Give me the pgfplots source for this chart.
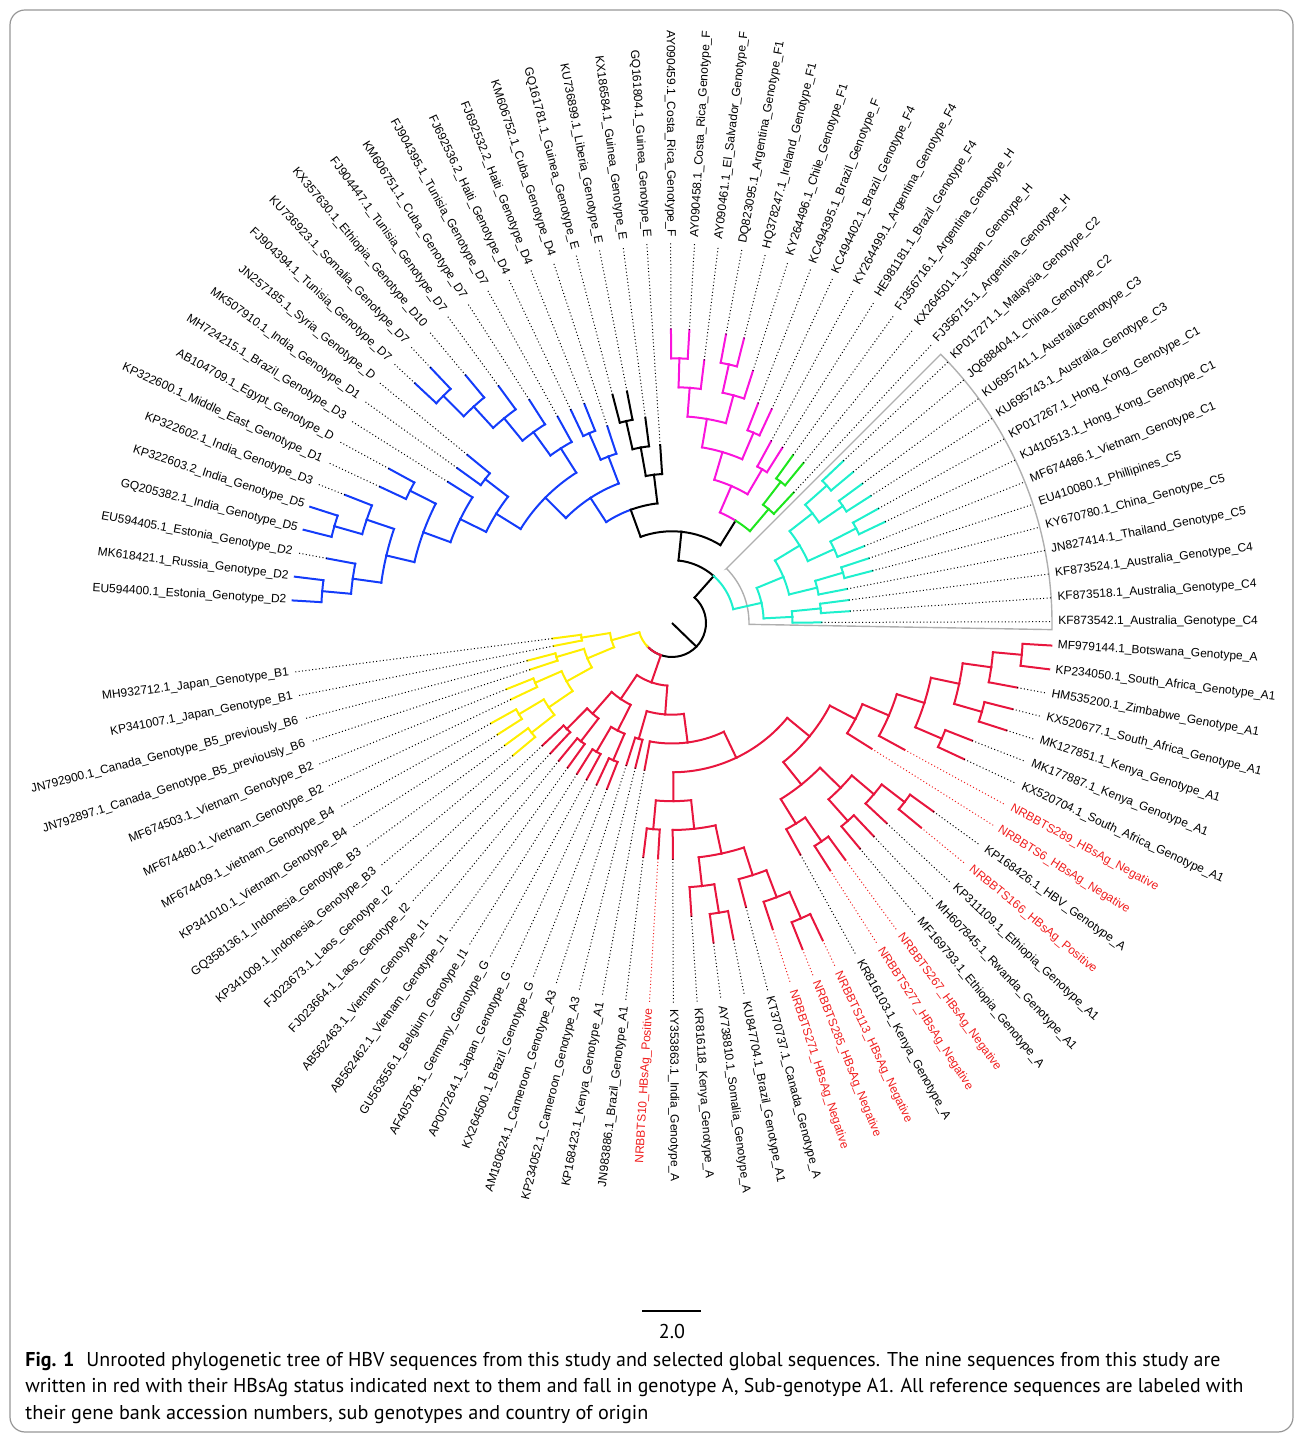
\documentclass[border=0pt]{standalone}
\usepackage{graphicx}
\usepackage{pgfplots}
\pgfplotsset{compat=1.18}
\usepackage{fontspec}
\setmainfont{Liberation Sans}
\newfontfamily\capfont{PT Sans}
\definecolor{cD}{RGB}{20,60,250}
\definecolor{cF}{RGB}{250,20,220}
\definecolor{cH}{RGB}{30,230,30}
\definecolor{cC}{RGB}{30,240,205}
\definecolor{cA}{RGB}{232,22,62}
\definecolor{cB}{RGB}{255,238,0}
\definecolor{cK}{RGB}{0,0,0}
\definecolor{lred}{RGB}{240,30,30}
\definecolor{frm}{RGB}{150,150,150}
\definecolor{sect}{RGB}{175,175,175}
\tikzset{dotline/.style={line width=0.5pt, dash pattern=on 0.5pt off 1.2pt}}
\newcommand\lbl{\fontsize{6}{7}\selectfont}
\newcommand\capf{\capfont\fontsize{10}{12}\selectfont}
% edge: colour, parent angle, parent radius, child angle, child radius
\newcommand\Br[5]{%
 \addplot[#1, data cs=polar, line width=1pt, line cap=rect] coordinates {(#4,#3) (#4,#5)};
 \draw[#1, line width=1pt, line cap=rect] (axis cs:{#3*cos(#2)},{#3*sin(#2)}) arc[start angle=#2, end angle=#4, radius={#3*0.5pt}];
}
% leaf label, right side: angle, tip radius, colour, text
\newcommand\LabR[4]{%
 \addplot[#3, data cs=polar, dotline] coordinates {(#1,#2) (#1,380)};
 \node[text=#3, rotate=#1, anchor=west, inner sep=0pt, font=\lbl] at (axis cs:{386*cos(#1)},{386*sin(#1)}) {#4};
}
\newcommand\LabL[4]{%
 \addplot[#3, data cs=polar, dotline] coordinates {(#1,#2) (#1,380)};
 \node[text=#3, rotate={#1+180}, anchor=east, inner sep=0pt, font=\lbl] at (axis cs:{386*cos(#1)},{386*sin(#1)}) {#4};
}
\begin{document}
\begin{tikzpicture}
\begin{axis}[x=0.5pt, y=0.5pt, xmin=-672, xmax=623, ymin=-813, ymax=623,
  hide axis, clip=false, no marks]
\path (axis cs:-672,-813) (axis cs:623,623);
\draw[frm, line width=0.6pt, rounded corners=7.5pt] (axis cs:-662,613) rectangle (axis cs:621,-809);
% grey sector round clade C
\draw[sect, line width=0.7pt] (axis cs:{77*cos(45)},{77*sin(45)}) -- (axis cs:{380*cos(45)},{380*sin(45)}) arc[start angle=45, end angle=-1, radius={380*0.5pt}] -- (axis cs:{77*cos(-1)},{77*sin(-1)}) arc[start angle=-1, end angle=45, radius={77*0.5pt}] -- cycle;
% root stub
\addplot[cK, data cs=polar, line width=1pt] coordinates {(-44.1,0) (-44.1,34)};
% backbone
\Br{cK}{-44.1}{34}{48.39}{62.8}
\Br{cK}{-44.1}{34}{-136.6}{34}
\Br{cA}{-136.6}{34}{-109.14}{62.8}
\Br{cB}{-136.6}{34}{-164.05}{62.8}
\Br{cK}{48.39}{62.8}{84.09}{91.7}
\Br{cC}{48.39}{62.8}{12.69}{91.7}
\Br{cK}{84.09}{91.7}{110.03}{120.5}
\Br{cK}{84.09}{91.7}{58.14}{120.5}
\Br{cD}{110.03}{120.5}{123.1}{149.3}
\Br{cK}{110.03}{120.5}{96.95}{149.3}
% D
\Br{cD}{123.1}{149.3}{135.31}{178.2}
\Br{cD}{123.1}{149.3}{110.9}{178.2}
\Br{cD}{135.31}{178.2}{148.14}{207}
\Br{cD}{135.31}{178.2}{122.49}{207}
\Br{cD}{148.14}{207}{153.875}{235.8}
\Br{cD}{148.14}{207}{142.4}{235.8}
\Br{cD}{153.875}{235.8}{159.95}{264.7}
\Br{cD}{153.875}{235.8}{147.8}{264.7}
\Br{cD}{159.95}{264.7}{166.7}{293.5}
\Br{cD}{159.95}{264.7}{153.2}{293.5}
\Br{cD}{166.7}{293.5}{172.1}{322.3}
\Br{cD}{166.7}{293.5}{161.3}{322.3}
\Br{cD}{172.1}{322.3}{174.8}{351.2}
\Br{cD}{172.1}{322.3}{169.4}{351.2}
\Br{cD}{174.8}{351.2}{176.6}{380}
\Br{cD}{174.8}{351.2}{173.0}{380}
\Br{cD}{161.3}{322.3}{164.0}{351.2}
\Br{cD}{161.3}{322.3}{158.6}{351.2}
\Br{cD}{164.0}{351.2}{165.8}{380}
\Br{cD}{164.0}{351.2}{162.2}{380}
\Br{cD}{153.2}{293.5}{155.0}{322.3}
\Br{cD}{153.2}{293.5}{151.4}{322.3}
\Br{cD}{142.4}{235.8}{144.2}{264.7}
\Br{cD}{142.4}{235.8}{140.6}{264.7}
\Br{cD}{122.49}{207}{125.975}{235.8}
\Br{cD}{122.49}{207}{119.0}{235.8}
\Br{cD}{125.975}{235.8}{129.35}{264.7}
\Br{cD}{125.975}{235.8}{122.6}{264.7}
\Br{cD}{129.35}{264.7}{132.5}{293.5}
\Br{cD}{129.35}{264.7}{126.2}{293.5}
\Br{cD}{132.5}{293.5}{135.2}{322.3}
\Br{cD}{132.5}{293.5}{129.8}{322.3}
\Br{cD}{135.2}{322.3}{137.0}{351.2}
\Br{cD}{135.2}{322.3}{133.4}{351.2}
\Br{cD}{110.9}{178.2}{113.6}{207}
\Br{cD}{110.9}{178.2}{108.2}{207}
\Br{cD}{113.6}{207}{115.4}{235.8}
\Br{cD}{113.6}{207}{111.8}{235.8}
% E
\Br{cK}{96.95}{149.3}{100.1}{178.2}
\Br{cK}{96.95}{149.3}{93.8}{178.2}
\Br{cK}{100.1}{178.2}{102.8}{207}
\Br{cK}{100.1}{178.2}{97.4}{207}
\Br{cK}{102.8}{207}{104.6}{235.8}
\Br{cK}{102.8}{207}{101.0}{235.8}
% F and H
\Br{cF}{58.14}{120.5}{66.575}{149.3}
\Br{cH}{58.14}{120.5}{49.7}{149.3}
\Br{cF}{66.575}{149.3}{73.55}{178.2}
\Br{cF}{66.575}{149.3}{59.6}{178.2}
\Br{cF}{73.55}{178.2}{80.3}{207}
\Br{cF}{73.55}{178.2}{66.8}{207}
\Br{cF}{80.3}{207}{85.7}{235.8}
\Br{cF}{80.3}{207}{74.9}{235.8}
\Br{cF}{85.7}{235.8}{88.4}{264.7}
\Br{cF}{85.7}{235.8}{83.0}{264.7}
\Br{cF}{88.4}{264.7}{90.2}{293.5}
\Br{cF}{88.4}{264.7}{86.6}{293.5}
\Br{cF}{74.9}{235.8}{77.6}{264.7}
\Br{cF}{74.9}{235.8}{72.2}{264.7}
\Br{cF}{77.6}{264.7}{79.4}{293.5}
\Br{cF}{77.6}{264.7}{75.8}{293.5}
\Br{cF}{66.8}{207}{68.6}{235.8}
\Br{cF}{66.8}{207}{65.0}{235.8}
\Br{cF}{59.6}{178.2}{61.4}{207}
\Br{cF}{59.6}{178.2}{57.8}{207}
\Br{cH}{49.7}{149.3}{52.4}{178.2}
\Br{cH}{49.7}{149.3}{47.0}{178.2}
\Br{cH}{52.4}{178.2}{54.2}{207}
\Br{cH}{52.4}{178.2}{50.6}{207}
% C
\Br{cC}{12.69}{91.7}{22.475}{120.5}
\Br{cC}{12.69}{91.7}{2.9}{120.5}
\Br{cC}{22.475}{120.5}{31.25}{149.3}
\Br{cC}{22.475}{120.5}{13.7}{149.3}
\Br{cC}{31.25}{149.3}{38.0}{178.2}
\Br{cC}{31.25}{149.3}{24.5}{178.2}
\Br{cC}{38.0}{178.2}{41.6}{207}
\Br{cC}{38.0}{178.2}{34.4}{207}
\Br{cC}{41.6}{207}{43.4}{235.8}
\Br{cC}{41.6}{207}{39.8}{235.8}
\Br{cC}{34.4}{207}{36.2}{235.8}
\Br{cC}{34.4}{207}{32.6}{235.8}
\Br{cC}{24.5}{178.2}{27.2}{207}
\Br{cC}{24.5}{178.2}{21.8}{207}
\Br{cC}{27.2}{207}{29.0}{235.8}
\Br{cC}{27.2}{207}{25.4}{235.8}
\Br{cC}{13.7}{149.3}{16.4}{178.2}
\Br{cC}{13.7}{149.3}{11.0}{178.2}
\Br{cC}{16.4}{178.2}{18.2}{207}
\Br{cC}{16.4}{178.2}{14.6}{207}
\Br{cC}{2.9}{120.5}{5.6}{149.3}
\Br{cC}{2.9}{120.5}{0.2}{149.3}
\Br{cC}{5.6}{149.3}{7.4}{178.2}
\Br{cC}{5.6}{149.3}{3.8}{178.2}
% A
\Br{cA}{-109.14}{62.8}{-94.275}{91.7}
\Br{cA}{-109.14}{62.8}{-124.0}{91.7}
\Br{cA}{-94.275}{91.7}{-82.55}{120.5}
\Br{cA}{-94.275}{91.7}{-106.0}{120.5}
\Br{cA}{-106.0}{120.5}{-104.2}{149.3}
\Br{cA}{-106.0}{120.5}{-107.8}{149.3}
\Br{cA}{-82.55}{120.5}{-64.5}{149.3}
\Br{cA}{-82.55}{120.5}{-100.6}{149.3}
\Br{cA}{-64.5}{149.3}{-39.48}{178.2}
\Br{cA}{-64.5}{149.3}{-89.52}{178.2}
\Br{cA}{-89.52}{178.2}{-83.84}{207}
\Br{cA}{-89.52}{178.2}{-95.2}{207}
\Br{cA}{-95.2}{207}{-93.4}{235.8}
\Br{cA}{-95.2}{207}{-97.0}{235.8}
\Br{cA}{-83.84}{207}{-77.875}{235.8}
\Br{cA}{-83.84}{207}{-89.8}{235.8}
\Br{cA}{-77.875}{235.8}{-72.25}{264.7}
\Br{cA}{-77.875}{235.8}{-83.5}{264.7}
\Br{cA}{-83.5}{264.7}{-80.8}{293.5}
\Br{cA}{-83.5}{264.7}{-86.2}{293.5}
\Br{cA}{-80.8}{293.5}{-79.0}{322.3}
\Br{cA}{-80.8}{293.5}{-82.6}{322.3}
\Br{cA}{-72.25}{264.7}{-69.1}{293.5}
\Br{cA}{-72.25}{264.7}{-75.4}{293.5}
\Br{cA}{-69.1}{293.5}{-66.4}{322.3}
\Br{cA}{-69.1}{293.5}{-71.8}{322.3}
\Br{cA}{-66.4}{322.3}{-64.6}{351.2}
\Br{cA}{-66.4}{322.3}{-68.2}{351.2}
\Br{cA}{-39.48}{178.2}{-27.64}{207}
\Br{cA}{-39.48}{178.2}{-51.325}{207}
\Br{cA}{-27.64}{207}{-23.09}{235.8}
\Br{cA}{-27.64}{207}{-32.2}{235.8}
\Br{cA}{-23.09}{235.8}{-17.575}{264.7}
\Br{cA}{-23.09}{235.8}{-28.6}{264.7}
\Br{cA}{-17.575}{264.7}{-11.95}{293.5}
\Br{cA}{-17.575}{264.7}{-23.2}{293.5}
\Br{cA}{-11.95}{293.5}{-7.9}{322.3}
\Br{cA}{-11.95}{293.5}{-16.0}{322.3}
\Br{cA}{-7.9}{322.3}{-5.2}{351.2}
\Br{cA}{-7.9}{322.3}{-10.6}{351.2}
\Br{cA}{-5.2}{351.2}{-3.4}{380}
\Br{cA}{-5.2}{351.2}{-7.0}{380}
\Br{cA}{-16.0}{322.3}{-14.2}{351.2}
\Br{cA}{-16.0}{322.3}{-17.8}{351.2}
\Br{cA}{-23.2}{293.5}{-21.4}{322.3}
\Br{cA}{-23.2}{293.5}{-25.0}{322.3}
\Br{cA}{-51.325}{207}{-44.35}{235.8}
\Br{cA}{-51.325}{207}{-58.3}{235.8}
\Br{cA}{-44.35}{235.8}{-40.3}{264.7}
\Br{cA}{-44.35}{235.8}{-48.4}{264.7}
\Br{cA}{-40.3}{264.7}{-37.6}{293.5}
\Br{cA}{-40.3}{264.7}{-43.0}{293.5}
\Br{cA}{-37.6}{293.5}{-35.8}{322.3}
\Br{cA}{-37.6}{293.5}{-39.4}{322.3}
\Br{cA}{-48.4}{264.7}{-46.6}{293.5}
\Br{cA}{-48.4}{264.7}{-50.2}{293.5}
\Br{cA}{-58.3}{235.8}{-55.6}{264.7}
\Br{cA}{-58.3}{235.8}{-61.0}{264.7}
\Br{cA}{-55.6}{264.7}{-53.8}{293.5}
\Br{cA}{-55.6}{264.7}{-57.4}{293.5}
% G and I
\Br{cA}{-124.0}{91.7}{-116.8}{120.5}
\Br{cA}{-124.0}{91.7}{-131.2}{120.5}
\Br{cA}{-116.8}{120.5}{-113.2}{149.3}
\Br{cA}{-116.8}{120.5}{-120.4}{149.3}
\Br{cA}{-113.2}{149.3}{-111.4}{178.2}
\Br{cA}{-113.2}{149.3}{-115.0}{178.2}
\Br{cA}{-120.4}{149.3}{-118.6}{178.2}
\Br{cA}{-120.4}{149.3}{-122.2}{178.2}
\Br{cA}{-131.2}{120.5}{-127.6}{149.3}
\Br{cA}{-131.2}{120.5}{-134.8}{149.3}
\Br{cA}{-127.6}{149.3}{-125.8}{178.2}
\Br{cA}{-127.6}{149.3}{-129.4}{178.2}
\Br{cA}{-134.8}{149.3}{-133.0}{178.2}
\Br{cA}{-134.8}{149.3}{-136.6}{178.2}
% B
\Br{cB}{-164.05}{62.8}{-157.3}{91.7}
\Br{cB}{-164.05}{62.8}{-170.8}{91.7}
\Br{cB}{-170.8}{91.7}{-169.0}{120.5}
\Br{cB}{-170.8}{91.7}{-172.6}{120.5}
\Br{cB}{-157.3}{91.7}{-151.0}{120.5}
\Br{cB}{-157.3}{91.7}{-163.6}{120.5}
\Br{cB}{-163.6}{120.5}{-161.8}{149.3}
\Br{cB}{-163.6}{120.5}{-165.4}{149.3}
\Br{cB}{-151.0}{120.5}{-145.6}{149.3}
\Br{cB}{-151.0}{120.5}{-156.4}{149.3}
\Br{cB}{-156.4}{149.3}{-154.6}{178.2}
\Br{cB}{-156.4}{149.3}{-158.2}{178.2}
\Br{cB}{-145.6}{149.3}{-142.0}{178.2}
\Br{cB}{-145.6}{149.3}{-149.2}{178.2}
\Br{cB}{-142.0}{178.2}{-140.2}{207}
\Br{cB}{-142.0}{178.2}{-143.8}{207}
\Br{cB}{-149.2}{178.2}{-147.4}{207}
\Br{cB}{-149.2}{178.2}{-151.0}{207}
% leaf labels
\LabL{176.6}{380}{black}{EU594400.1\_Estonia\_Genotype\_D2}
\LabL{173.0}{380}{black}{MK618421.1\_Russia\_Genotype\_D2}
\LabL{169.4}{351.2}{black}{EU594405.1\_Estonia\_Genotype\_D2}
\LabL{165.8}{380}{black}{GQ205382.1\_India\_Genotype\_D5}
\LabL{162.2}{380}{black}{KP322603.2\_India\_Genotype\_D5}
\LabL{158.6}{351.2}{black}{KP322602.1\_India\_Genotype\_D3}
\LabL{155.0}{322.3}{black}{KP322600.1\_Middle\_East\_Genotype\_D1}
\LabL{151.4}{322.3}{black}{AB104709.1\_Egypt\_Genotype\_D}
\LabL{147.8}{264.7}{black}{MH724215.1\_Brazil\_Genotype\_D3}
\LabL{144.2}{264.7}{black}{MK507910.1\_India\_Genotype\_D1}
\LabL{140.6}{264.7}{black}{JN257185.1\_Syria\_Genotype\_D}
\LabL{137.0}{351.2}{black}{FJ904394.1\_Tunisia\_Genotype\_D7}
\LabL{133.4}{351.2}{black}{KU736923.1\_Somalia\_Genotype\_D7}
\LabL{129.8}{322.3}{black}{KX357630.1\_Ethiopia\_Genotype\_D10}
\LabL{126.2}{293.5}{black}{FJ904447.1\_Tunisia\_Genotype\_D7}
\LabL{122.6}{264.7}{black}{KM606751.1\_Cuba\_Genotype\_D7}
\LabL{119.0}{235.8}{black}{FJ904395.1\_Tunisia\_Genotype\_D7}
\LabL{115.4}{235.8}{black}{FJ692536.2\_Haiti\_Genotype\_D4}
\LabL{111.8}{235.8}{black}{FJ692532.2\_Haiti\_Genotype\_D4}
\LabL{108.2}{207}{black}{KM606752.1\_Cuba\_Genotype\_D4}
\LabL{104.6}{235.8}{black}{GQ161781.1\_Guinea\_Genotype\_E}
\LabL{101.0}{235.8}{black}{KU736899.1\_Liberia\_Genotype\_E}
\LabL{97.4}{207}{black}{KX186584.1\_Guinea\_Genotype\_E}
\LabL{93.8}{178.2}{black}{GQ161804.1\_Guinea\_Genotype\_E}
\LabL{90.2}{293.5}{black}{AY090459.1\_Costa\_Rica\_Genotype\_F}
\LabR{86.6}{293.5}{black}{AY090458.1\_Costa\_Rica\_Genotype\_F}
\LabR{83.0}{264.7}{black}{AY090461.1\_El\_Salvador\_Genotype\_F}
\LabR{79.4}{293.5}{black}{DQ823095.1\_Argentina\_Genotype\_F1}
\LabR{75.8}{293.5}{black}{HQ378247.1\_Ireland\_Genotype\_F1}
\LabR{72.2}{264.7}{black}{KY264496.1\_Chile\_Genotype\_F1}
\LabR{68.6}{235.8}{black}{KC494395.1\_Brazil\_Genotype\_F}
\LabR{65.0}{235.8}{black}{KC494402.1\_Brazil\_Genotype\_F4}
\LabR{61.4}{207}{black}{KY264499.1\_Argentina\_Genotype\_F4}
\LabR{57.8}{207}{black}{HE981181.1\_Brazil\_Genotype\_F4}
\LabR{54.2}{207}{black}{FJ356716.1\_Argentina\_Genotype\_H}
\LabR{50.6}{207}{black}{KX264501.1\_Japan\_Genotype\_H}
\LabR{47.0}{178.2}{black}{FJ356715.1\_Argentina\_Genotype\_H}
\LabR{43.4}{235.8}{black}{KP017271.1\_Malaysia\_Genotype\_C2}
\LabR{39.8}{235.8}{black}{JQ688404.1\_China\_Genotype\_C2}
\LabR{36.2}{235.8}{black}{KU695741.1\_AustraliaGenotype\_C3}
\LabR{32.6}{235.8}{black}{KU695743.1\_Australia\_Genotype\_C3}
\LabR{29.0}{235.8}{black}{KP017267.1\_Hong\_Kong\_Genotype\_C1}
\LabR{25.4}{235.8}{black}{KJ410513.1\_Hong\_Kong\_Genotype\_C1}
\LabR{21.8}{207}{black}{MF674486.1\_Vietnam\_Genotype\_C1}
\LabR{18.2}{207}{black}{EU410080.1\_Phillipines\_C5}
\LabR{14.6}{207}{black}{KY670780.1\_China\_Genotype\_C5}
\LabR{11.0}{178.2}{black}{JN827414.1\_Thailand\_Genotype\_C5}
\LabR{7.4}{178.2}{black}{KF873524.1\_Australia\_Genotype\_C4}
\LabR{3.8}{178.2}{black}{KF873518.1\_Australia\_Genotype\_C4}
\LabR{0.2}{149.3}{black}{KF873542.1\_Australia\_Genotype\_C4}
\LabR{-3.4}{380}{black}{MF979144.1\_Botswana\_Genotype\_A}
\LabR{-7.0}{380}{black}{KP234050.1\_South\_Africa\_Genotype\_A1}
\LabR{-10.6}{351.2}{black}{HM535200.1\_Zimbabwe\_Genotype\_A1}
\LabR{-14.2}{351.2}{black}{KX520677.1\_South\_Africa\_Genotype\_A1}
\LabR{-17.8}{351.2}{black}{MK127851.1\_Kenya\_Genotype\_A1}
\LabR{-21.4}{322.3}{black}{MK177887.1\_Kenya\_Genotype\_A1}
\LabR{-25.0}{322.3}{black}{KX520704.1\_South\_Africa\_Genotype\_A1}
\LabR{-28.6}{264.7}{lred}{NRBBTS289\_HBsAg\_Negative}
\LabR{-32.2}{235.8}{lred}{NRBBTS6\_HBsAg\_Negative}
\LabR{-35.8}{322.3}{black}{KP168426.1\_HBV\_Genotype\_A}
\LabR{-39.4}{322.3}{lred}{NRBBTS166\_HBsAg\_Positive}
\LabR{-43.0}{293.5}{black}{KP311109.1\_Ethiopia\_Genotype\_A1}
\LabR{-46.6}{293.5}{black}{MH607845.1\_Rwanda\_Genotype\_A1}
\LabR{-50.2}{293.5}{black}{MF169793.1\_Ethiopia\_Genotype\_A}
\LabR{-53.8}{293.5}{lred}{NRBBTS267\_HBsAg\_Negative}
\LabR{-57.4}{293.5}{lred}{NRBBTS277\_HBsAg\_Negative}
\LabR{-61.0}{264.7}{black}{KR816103.1\_Kenya\_Genotype\_A}
\LabR{-64.6}{351.2}{lred}{NRBBTS113\_HBsAg\_Negative}
\LabR{-68.2}{351.2}{lred}{NRBBTS285\_HBsAg\_Negative}
\LabR{-71.8}{322.3}{lred}{NRBBTS271\_HBsAg\_Negative}
\LabR{-75.4}{293.5}{black}{KT370737.1\_Canada\_Genotype\_A}
\LabR{-79.0}{322.3}{black}{KU847704.1\_Brazil\_Genotype\_A1}
\LabR{-82.6}{322.3}{black}{AY738810.1\_Somalia\_Genotype\_A}
\LabR{-86.2}{293.5}{black}{KR816118\_Kenya\_Genotype\_A}
\LabR{-89.8}{235.8}{black}{KY353863.1\_India\_Genotype\_A}
\LabL{-93.4}{235.8}{lred}{NRBBTS10\_HBsAg\_Positive}
\LabL{-97.0}{235.8}{black}{JN983886.1\_Brazil\_Genotype\_A1}
\LabL{-100.6}{149.3}{black}{KP168423.1\_Kenya\_Genotype\_A1}
\LabL{-104.2}{149.3}{black}{KP234052.1\_Cameroon\_Genotype\_A3}
\LabL{-107.8}{149.3}{black}{AM180624.1\_Cameroon\_Genotype\_A3}
\LabL{-111.4}{178.2}{black}{KX264500.1\_Brazil\_Genotype\_G}
\LabL{-115.0}{178.2}{black}{AP007264.1\_Japan\_Genotype\_G}
\LabL{-118.6}{178.2}{black}{AF405706.1\_Germany\_Genotype\_G}
\LabL{-122.2}{178.2}{black}{GU563556.1\_Belgium\_Genotype\_I1}
\LabL{-125.8}{178.2}{black}{AB562462.1\_Vietnam\_Genotype\_I1}
\LabL{-129.4}{178.2}{black}{AB562463.1\_Vietnam\_Genotype\_I1}
\LabL{-133.0}{178.2}{black}{FJ023664.1\_Laos\_Genotype\_I2}
\LabL{-136.6}{178.2}{black}{FJ023673.1\_Laos\_Genotype\_I2}
\LabL{-140.2}{207}{black}{KP341009.1\_Indonesia\_Genotype\_B3}
\LabL{-143.8}{207}{black}{GQ358136.1\_Indonesia\_Genotype\_B3}
\LabL{-147.4}{207}{black}{KP341010.1\_Vietnam\_Genotype\_B4}
\LabL{-151.0}{207}{black}{MF674409.1\_vietnam\_Genotype\_B4}
\LabL{-154.6}{178.2}{black}{MF674480.1\_Vietnam\_Genotype\_B2}
\LabL{-158.2}{178.2}{black}{MF674503.1\_Vietnam\_Genotype\_B2}
\LabL{-161.8}{149.3}{black}{JN792897.1\_Canada\_Genotype\_B5\_previously\_B6}
\LabL{-165.4}{149.3}{black}{JN792900.1\_Canada\_Genotype\_B5\_previously\_B6}
\LabL{-169.0}{120.5}{black}{KP341007.1\_Japan\_Genotype\_B1}
\LabL{-172.6}{120.5}{black}{MH932712.1\_Japan\_Genotype\_B1}
% scale bar
\addplot[black, line width=1pt] coordinates {(-30,-688) (29,-688)};
\node[anchor=base, inner sep=0pt, font=\capf] at (axis cs:0,-716) {2.0};
% caption
\node[anchor=base west, inner sep=0pt, font=\capf] at (axis cs:-647,-744) {\resizebox{597.5pt}{\height}{\textbf{Fig. 1}\hspace{0.6em}Unrooted phylogenetic tree of HBV sequences from this study and selected global sequences. The nine sequences from this study are}};
\node[anchor=base west, inner sep=0pt, font=\capf] at (axis cs:-647,-770) {\resizebox{609pt}{\height}{written in red with their HBsAg status indicated next to them and fall in genotype A, Sub-genotype A1. All reference sequences are labeled with}};
\node[anchor=base west, inner sep=0pt, font=\capf] at (axis cs:-647,-796) {\resizebox{311.5pt}{\height}{their gene bank accession numbers, sub genotypes and country of origin}};
\end{axis}
\end{tikzpicture}
\end{document}
